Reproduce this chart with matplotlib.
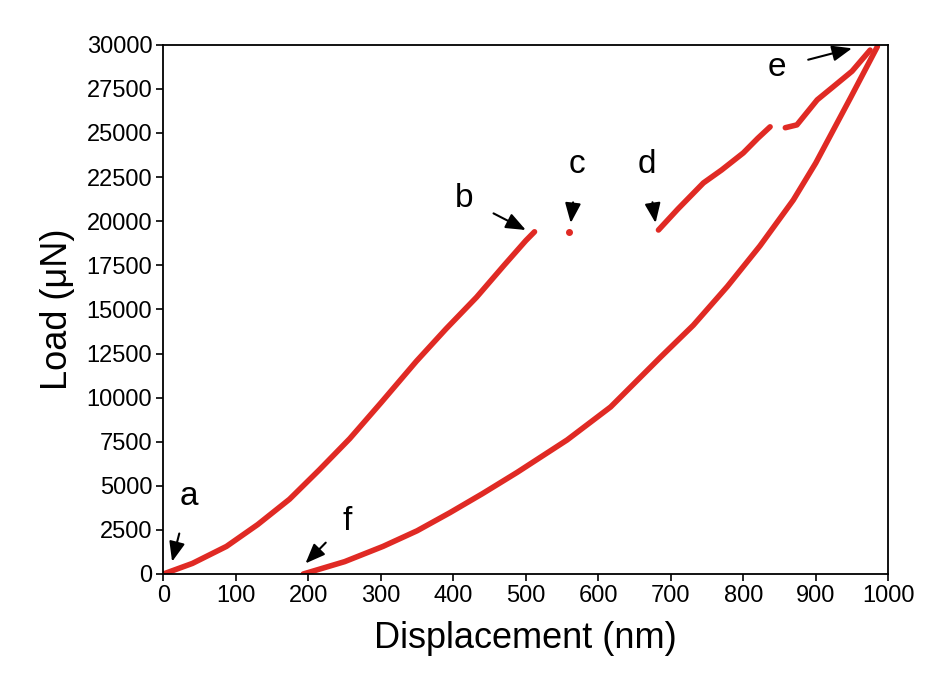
import matplotlib
matplotlib.use("Agg")
import matplotlib.pyplot as plt

load1_x = [0, 40, 87, 130, 174, 215, 257, 300, 349, 390, 432, 470, 500, 512]
load1_y = [0, 600, 1565, 2800, 4240, 5900, 7670, 9700, 12060, 13900, 15690, 17500, 18900, 19400]
pt_c_x = [560]
pt_c_y = [19400]
load2_x = [683, 710, 745, 770, 800, 820, 837]
load2_y = [19500, 20700, 22170, 22900, 23870, 24700, 25350]
load3_x = [858, 874, 902, 924, 950, 975]
load3_y = [25300, 25460, 26880, 27620, 28500, 29700]
unload_x = [985, 948, 900, 869, 823, 778, 731, 686, 617, 557, 488, 440, 395, 350, 303, 250, 193]
unload_y = [29900, 27000, 23300, 21200, 18600, 16300, 14100, 12300, 9470, 7600, 5760, 4550, 3470, 2450, 1565, 700, 0]
labels = ["a", "b", "c", "d", "e", "f"]
label_xy = [(35, 4400), (415, 21300), (571, 23200), (667, 23200), (847, 28700), (253, 3000)]
arrow_xy = [(12, 700), (500, 19500), (562, 19900), (679, 19900), (950, 29800), (196, 600)]

plt.rcParams["font.family"] = "Liberation Sans"
fig, ax = plt.subplots(figsize=(9.5, 7), dpi=100)
fig.subplots_adjust(left=0.172, right=0.935, top=0.936, bottom=0.18)
c = "#e02a24"
for xs, ys in [(load1_x, load1_y), (load2_x, load2_y), (load3_x, load3_y), (unload_x, unload_y)]:
    ax.plot(xs, ys, color=c, lw=4, solid_capstyle="round", solid_joinstyle="round")
ax.plot(pt_c_x, pt_c_y, "o", color=c, ms=4)
for lab, (tx, ty), (axx, ayy) in zip(labels, label_xy, arrow_xy):
    ax.annotate(lab, xy=(axx, ayy), xytext=(tx, ty), fontsize=24, ha="center", va="center",
                arrowprops=dict(arrowstyle="-|>,head_length=0.5,head_width=0.2", color="black",
                                lw=1.5, shrinkA=14, shrinkB=0))
ax.set_xlim(0, 1000)
ax.set_ylim(0, 30000)
ax.set_xticks(range(0, 1001, 100))
ax.set_yticks(range(0, 30001, 2500))
ax.tick_params(labelsize=17, direction="out", length=5, width=1.2, pad=3)
ax.set_xlabel("Displacement (nm)", fontsize=26, labelpad=10)
ax.set_ylabel("Load (μN)", fontsize=26, labelpad=8)
for s in ax.spines.values():
    s.set_linewidth(1.3)
fig.savefig("out.png")
